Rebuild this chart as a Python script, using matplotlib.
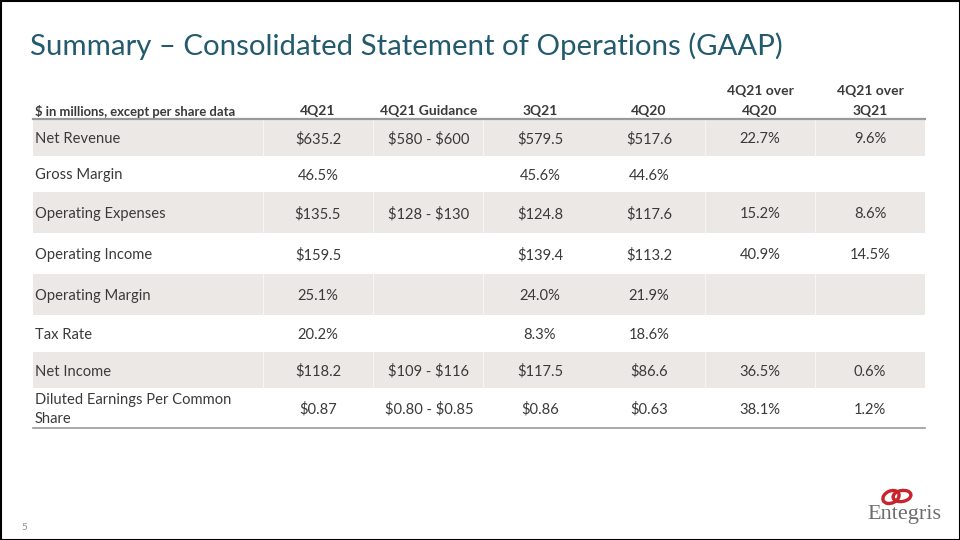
import matplotlib
matplotlib.use("Agg")
import matplotlib.pyplot as plt
from matplotlib.patches import Rectangle, Ellipse

plt.rcParams['font.family'] = ['Lato', 'DejaVu Sans']

title = "Summary – Consolidated Statement of Operations (GAAP)"
col_headers = ["$ in millions, except per share data", "4Q21", "4Q21 Guidance", "3Q21", "4Q20",
               "4Q21 over\n4Q20", "4Q21 over\n3Q21"]
row_labels = ["Net Revenue", "Gross Margin", "Operating Expenses", "Operating Income",
              "Operating Margin", "Tax Rate", "Net Income", "Diluted Earnings Per Common\nShare"]
q4_21 = ["$635.2", "46.5%", "$135.5", "$159.5", "25.1%", "20.2%", "$118.2", "$0.87"]
guidance = ["$580 - $600", "", "$128 - $130", "", "", "", "$109 - $116", "$0.80 - $0.85"]
q3_21 = ["$579.5", "45.6%", "$124.8", "$139.4", "24.0%", "8.3%", "$117.5", "$0.86"]
q4_20 = ["$517.6", "44.6%", "$117.6", "$113.2", "21.9%", "18.6%", "$86.6", "$0.63"]
yoy = ["22.7%", "", "15.2%", "40.9%", "", "", "36.5%", "38.1%"]
qoq = ["9.6%", "", "8.6%", "14.5%", "", "", "0.6%", "1.2%"]
page_number = "5"
logo_text = "Entegris"

fig = plt.figure(figsize=(9.6, 5.4), dpi=100)
ax = fig.add_axes([0, 0, 1, 1])
ax.set_xlim(0, 960)
ax.set_ylim(540, 0)
ax.axis('off')

def T(x, y, s, **kw):
    ax.text(x, y, s, parse_math=False, **kw)

# frame
ax.add_patch(Rectangle((0.5, 0.5), 959, 539, fill=False, ec='black', lw=1.5, zorder=10))

title_color = '#245a6e'
text_color = '#3a3a3a'
shade = '#ece8e5'

T(30, 46, title, fontsize=21.2, color=title_color, va='center', ha='left')

left, right = 33, 925
bounds = [119, 156, 192, 233, 274, 315, 352, 388, 428]
col_centers = [318, 429, 540, 649, 760, 870]
dividers = [263, 373, 483, 705, 815]
dy = 1.5

# shading
for i in range(len(row_labels)):
    if i % 2 == 0:
        ax.add_patch(Rectangle((left, bounds[i]), right - left, bounds[i + 1] - bounds[i],
                               fc=shade, ec='none', zorder=1))
        for d in dividers:
            ax.plot([d, d], [bounds[i], bounds[i + 1]], color='#f7f5f4', lw=0.8, zorder=2)

# lines
ax.plot([left, right], [bounds[0], bounds[0]], color='#9a9a9a', lw=1.6, zorder=3)
ax.plot([left, right], [bounds[-1], bounds[-1]], color='#9a9a9a', lw=1.2, zorder=3)

# header
hy = 111
hfs = 10
T(35, hy, col_headers[0], fontsize=9.4, fontweight='bold', color=text_color,
  ha='left', va='center')
for j, h in enumerate(col_headers[1:]):
    if '\n' in h:
        a, b = h.split('\n')
        T(col_centers[j], 91, a, fontsize=hfs, fontweight='bold', color=text_color,
          ha='center', va='center')
        T(col_centers[j], hy, b, fontsize=hfs, fontweight='bold', color=text_color,
          ha='center', va='center')
    else:
        T(col_centers[j], hy, h, fontsize=hfs, fontweight='bold', color=text_color,
          ha='center', va='center')

cols = [q4_21, guidance, q3_21, q4_20, yoy, qoq]
bfs = 10.6
for i, lab in enumerate(row_labels):
    yc = (bounds[i] + bounds[i + 1]) / 2 + dy
    if '\n' in lab:
        a, b = lab.split('\n')
        T(35, yc - 9.5, a, fontsize=bfs, color=text_color, ha='left', va='center')
        T(35, yc + 9.5, b, fontsize=bfs, color=text_color, ha='left', va='center')
    else:
        T(35, yc, lab, fontsize=bfs, color=text_color, ha='left', va='center')
    for j, c in enumerate(cols):
        if c[i]:
            T(col_centers[j], yc, c[i], fontsize=bfs, color=text_color,
              ha='center', va='center')

# page number
T(21, 527, page_number, fontsize=7, color='#8a8a8a', ha='left', va='center')

# logo
red = '#c8242b'
ax.add_patch(Ellipse((891, 497), 17, 12, angle=-25, fill=False, ec=red, lw=2.4, zorder=5))
ax.add_patch(Ellipse((902, 496), 18, 11, angle=-10, fill=False, ec=red, lw=2.4, zorder=5))
T(904, 515, logo_text, fontsize=16, family=['Liberation Serif', 'DejaVu Serif'],
  color='#6e6e6e', ha='center', va='center')

fig.savefig('out.png', dpi=100)
